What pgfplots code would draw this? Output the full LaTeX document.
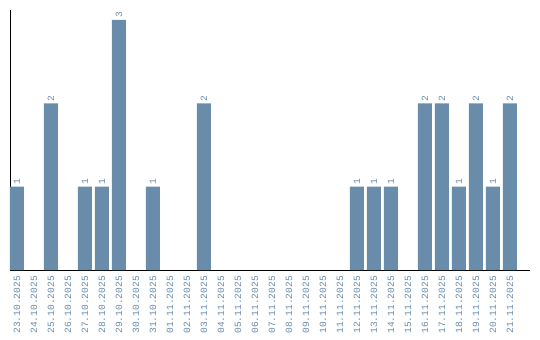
\documentclass[border=0pt]{standalone}
\usepackage{fontspec}
\setmainfont{Liberation Sans}
\newfontfamily\monofont{Liberation Mono}
\usepackage{pgfplots}
\pgfplotsset{compat=1.18}
\definecolor{barblue}{HTML}{6A8CAB}
\begin{document}
\begin{tikzpicture}
\useasboundingbox (0,0) rectangle (540bp,340bp);
\begin{axis}[
  at={(10bp,70bp)}, anchor=south west,
  width=520bp, height=260bp, scale only axis,
  ybar, bar width=14bp, bar shift=0pt,
  xmin=-0.41, xmax=30.18, ymin=0, ymax=3.12,
  axis x line=bottom, axis y line=left,
  axis line style={-, black, line width=1bp},
  ytick=\empty,
  xtick={0,...,29},
  xticklabels={23.10.2025,24.10.2025,25.10.2025,26.10.2025,27.10.2025,28.10.2025,29.10.2025,30.10.2025,31.10.2025,01.11.2025,02.11.2025,03.11.2025,04.11.2025,05.11.2025,06.11.2025,07.11.2025,08.11.2025,09.11.2025,10.11.2025,11.11.2025,12.11.2025,13.11.2025,14.11.2025,15.11.2025,16.11.2025,17.11.2025,18.11.2025,19.11.2025,20.11.2025,21.11.2025},
  x tick label style={rotate=90, anchor=east, font=\monofont\fontsize{9.6}{10}\selectfont, text=barblue, inner sep=1bp},
  major tick length=0pt,
  xticklabel shift=5bp,
  nodes near coords,
  /pgf/number format/assume math mode=true,
  every node near coord/.append style={rotate=90, anchor=west, font=\monofont\fontsize{9.6}{10}\selectfont, text=barblue, inner sep=2bp},
  clip=false,
]
\addplot[fill=barblue, draw=none] coordinates {
 (0,1) (2,2) (4,1) (5,1) (6,3) (8,1) (11,2)
 (20,1) (21,1) (22,1) (24,2) (25,2) (26,1) (27,2) (28,1) (29,2)
};
\end{axis}
\end{tikzpicture}
\end{document}
